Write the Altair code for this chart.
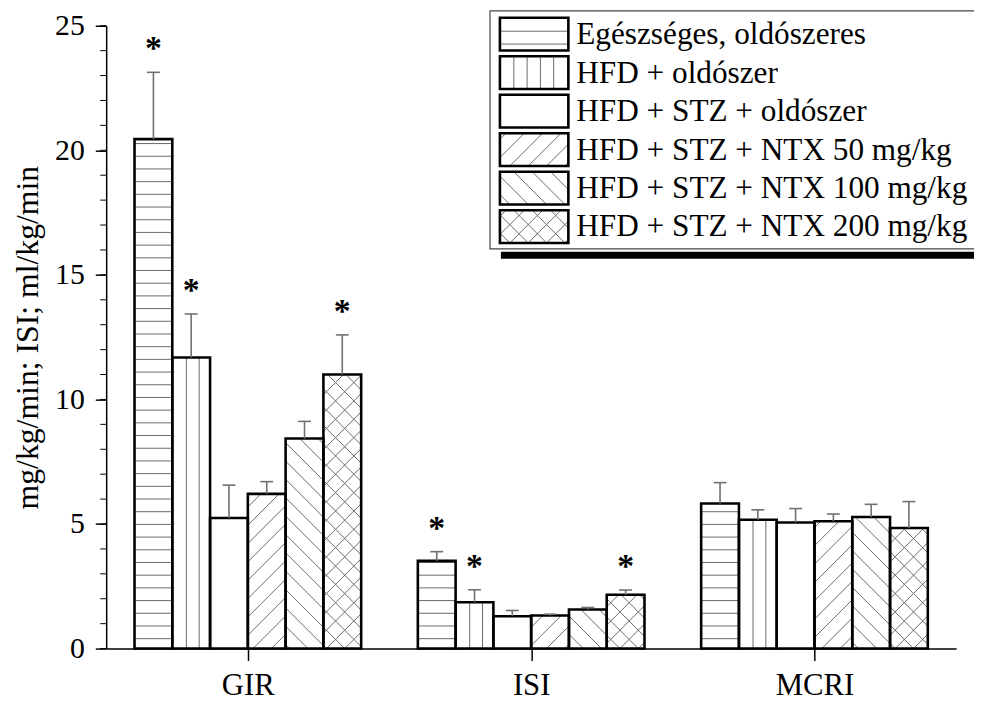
import json
import math
import altair as alt
import pandas as pd

# ---------------- data ----------------
groups = ["GIR", "ISI", "MCRI"]
series = [
    "Egészséges, oldószeres",
    "HFD + oldószer",
    "HFD + STZ + oldószer",
    "HFD + STZ + NTX 50 mg/kg",
    "HFD + STZ + NTX 100 mg/kg",
    "HFD + STZ + NTX 200 mg/kg",
]
gir_mean = [20.45, 11.68, 5.24, 6.21, 8.43, 11.0]
gir_err = [2.68, 1.75, 1.32, 0.49, 0.69, 1.59]
isi_mean = [3.52, 1.86, 1.30, 1.33, 1.57, 2.16]
isi_err = [0.37, 0.50, 0.23, 0.05, 0.08, 0.19]
mcri_mean = [5.82, 5.17, 5.06, 5.11, 5.28, 4.84]
mcri_err = [0.84, 0.40, 0.56, 0.29, 0.51, 1.06]
gir_star = [1, 1, 0, 0, 0, 1]
isi_star = [1, 1, 0, 0, 0, 1]
mcri_star = [0, 0, 0, 0, 0, 0]
patterns = ["hline", "vline", "none", "fwd", "back", "cross"]
y_ticks = [0, 5, 10, 15, 20, 25]
y_minor = list(range(0, 26))

means = {"GIR": gir_mean, "ISI": isi_mean, "MCRI": mcri_mean}
errs = {"GIR": gir_err, "ISI": isi_err, "MCRI": mcri_err}
stars = {"GIR": gir_star, "ISI": isi_star, "MCRI": mcri_star}

# ---------------- layout ----------------
W, H = 857, 628
YMAX = 25
PX_X = W / len(groups)
PX_Y = H / YMAX
GROUP_PAD = 0.1
BAR_W = 0.8 / len(series)
CAP = 6.5  # px half-width of error cap
FONT = "Liberation Serif"
HATCH_COLOR = "#6a6a6a"


def hatch(pattern, x0, x1, h, hoff, hsp=12.8, voff=14.2, vsp=12.9, dsp=18.5):
    """segments in pixel space: px absolute, py measured upward from rect bottom"""
    segs = []
    if pattern == "hline":
        py = hoff
        while py < h - 1.5:
            segs.append((x0, py, x1, py))
            py += hsp
    if pattern == "vline":
        px = x0 + voff
        while px < x1 - 1.5:
            segs.append((px, 0, px, h))
            px += vsp
    if pattern in ("fwd", "cross"):
        c = math.ceil(-x1 / dsp) * dsp
        while c <= h - x0:
            lo = max(x0, -c)
            hi = min(x1, h - c)
            if hi - lo > 0.5:
                segs.append((lo, lo + c, hi, hi + c))
            c += dsp
    if pattern in ("back", "cross"):
        c = math.ceil(x0 / dsp) * dsp
        while c <= x1 + h:
            lo = max(x0, c - h)
            hi = min(x1, c)
            if hi - lo > 0.5:
                segs.append((lo, c - lo, hi, c - hi))
            c += dsp
    return segs


def px_to_x(px):
    return px / PX_X


def py_to_y(py_from_top):
    return YMAX - py_from_top / PX_Y


rows = []
bar_hatch_rows = []
for gi, g in enumerate(groups):
    for si, s in enumerate(series):
        x0 = gi + GROUP_PAD + si * BAR_W
        x1 = x0 + BAR_W
        xc = (x0 + x1) / 2
        m = means[g][si]
        e = errs[g][si]
        rows.append(dict(group=g, series=s, x0=x0, x1=x1, xc=xc,
                         cap0=xc - CAP / PX_X, cap1=xc + CAP / PX_X,
                         zero=0, mean=m, top=m + e, star=stars[g][si]))
        for (a, b, c, d) in hatch(patterns[si], x0 * PX_X, x1 * PX_X, m * PX_Y, hoff=10):
            bar_hatch_rows.append(dict(x=a / PX_X, y=b / PX_Y, x2=c / PX_X, y2=d / PX_Y))
bars = pd.DataFrame(rows)
bar_hatch = pd.DataFrame(bar_hatch_rows)

# legend (placed by plot pixel offsets, converted into the chart's data units)
LEG_X0, LEG_Y0, LEG_X1, LEG_Y1 = 387, -15, 892, 225
SW_X0, SW_X1, SW_TOP, SW_H, SW_STEP = 397, 466, -8, 33, 38.8
TXT_X = 474
leg_rows = []
leg_hatch_rows = []
for si, s in enumerate(series):
    top = SW_TOP + si * SW_STEP
    bot = top + SW_H
    leg_rows.append(dict(series=s, x0=px_to_x(SW_X0), x1=px_to_x(SW_X1),
                         y0=py_to_y(top), y1=py_to_y(bot),
                         tx=px_to_x(TXT_X), ty=py_to_y(top + SW_H / 2 + 1)))
    for (a, b, c, d) in hatch(patterns[si], SW_X0, SW_X1, SW_H, hoff=6.5, hsp=13, voff=14, vsp=13.4):
        leg_hatch_rows.append(dict(x=px_to_x(a), y=py_to_y(bot - b), x2=px_to_x(c), y2=py_to_y(bot - d)))
leg = pd.DataFrame(leg_rows)
leg_hatch = pd.DataFrame(leg_hatch_rows)
box = pd.DataFrame([dict(x0=px_to_x(LEG_X0), x1=px_to_x(LEG_X1), y0=py_to_y(LEG_Y0), y1=py_to_y(LEG_Y1),
                         sx0=px_to_x(LEG_X0 + 11), sy0=py_to_y(LEG_Y1 + 3), sy1=py_to_y(LEG_Y1 + 10))])

xscale = alt.Scale(domain=[0, len(groups)], nice=False, zero=False)
yscale = alt.Scale(domain=[0, YMAX], nice=False, zero=False)
label_expr = json.dumps(groups) + "[floor(datum.value)]"


def X(field):
    return alt.X(field, scale=xscale)


def Y(field):
    return alt.Y(field, scale=yscale)


base = alt.Chart(bars)

hatch_layer = alt.Chart(bar_hatch).mark_rule(color=HATCH_COLOR, strokeWidth=1).encode(
    x=X("x:Q"), x2="x2:Q", y=Y("y:Q"), y2="y2:Q",
)

bar_layer = base.mark_rect(fillOpacity=0, stroke="black", strokeWidth=2.6).encode(
    x=alt.X("x0:Q", scale=xscale, title=None,
            axis=alt.Axis(values=[i + 0.5 for i in range(len(groups))], labelExpr=label_expr,
                          grid=False, tickSize=12, tickWidth=1.5, tickColor="black",
                          domainColor="black", domainWidth=1.5, labelFont=FONT,
                          labelFontSize=31, labelColor="black", labelPadding=10)),
    x2="x1:Q",
    y=alt.Y("zero:Q", scale=yscale, title="mg/kg/min; ISI; ml/kg/min",
            axis=alt.Axis(values=y_ticks, grid=False, tickSize=11, tickWidth=1.5,
                          tickColor="black", domainColor="black", domainWidth=1.5,
                          labelFont=FONT, labelFontSize=30, labelColor="black",
                          labelPadding=11, titleFont=FONT, titleFontSize=32,
                          titleFontWeight="normal", titleColor="black", titlePadding=10)),
    y2="mean:Q",
)

err_layer = base.mark_rule(color="#707070", strokeWidth=1.6).encode(
    x=X("xc:Q"), y=Y("mean:Q"), y2="top:Q",
)
cap_layer = base.mark_rule(color="#707070", strokeWidth=1.6).encode(
    x=X("cap0:Q"), x2="cap1:Q", y=Y("top:Q"),
)
star_layer = base.transform_filter("datum.star == 1").mark_text(
    text="*", font=FONT, fontSize=34, fontWeight="bold", baseline="alphabetic", dy=-13, color="black"
).encode(x=X("xc:Q"), y=Y("top:Q"))
minor_layer = alt.Chart(pd.DataFrame({"v": y_minor})).mark_rule(color="black", strokeWidth=1).encode(
    y=Y("v:Q"), x=alt.value(0), x2=alt.value(-6),
)

shadow_layer = alt.Chart(box).mark_rect(fill="black").encode(
    x=X("sx0:Q"), x2="x1:Q", y=Y("sy0:Q"), y2="sy1:Q",
)
box_layer = alt.Chart(box).mark_rect(fill="white", stroke="#444444", strokeWidth=1.2).encode(
    x=X("x0:Q"), x2="x1:Q", y=Y("y0:Q"), y2="y1:Q",
)
leg_hatch_layer = alt.Chart(leg_hatch).mark_rule(color=HATCH_COLOR, strokeWidth=1).encode(
    x=X("x:Q"), x2="x2:Q", y=Y("y:Q"), y2="y2:Q",
)
swatch_layer = alt.Chart(leg).mark_rect(fillOpacity=0, stroke="black", strokeWidth=2.6).encode(
    x=X("x0:Q"), x2="x1:Q", y=Y("y0:Q"), y2="y1:Q",
)
leg_text_layer = alt.Chart(leg).mark_text(
    font=FONT, fontSize=31.5, align="left", baseline="middle", color="black"
).encode(x=X("tx:Q"), y=Y("ty:Q"), text="series:N")

chart = alt.layer(
    hatch_layer, bar_layer, err_layer, cap_layer, star_layer, minor_layer,
    shadow_layer, box_layer, leg_hatch_layer, swatch_layer, leg_text_layer,
).properties(
    width=W, height=H,
    padding={"left": 99, "top": 15, "right": 18, "bottom": 53},
    autosize=alt.AutoSizeParams(type="none"),
    background="white",
).configure_view(stroke=None)

chart.save("out.html", embed_options={"renderer": "svg", "actions": False})
